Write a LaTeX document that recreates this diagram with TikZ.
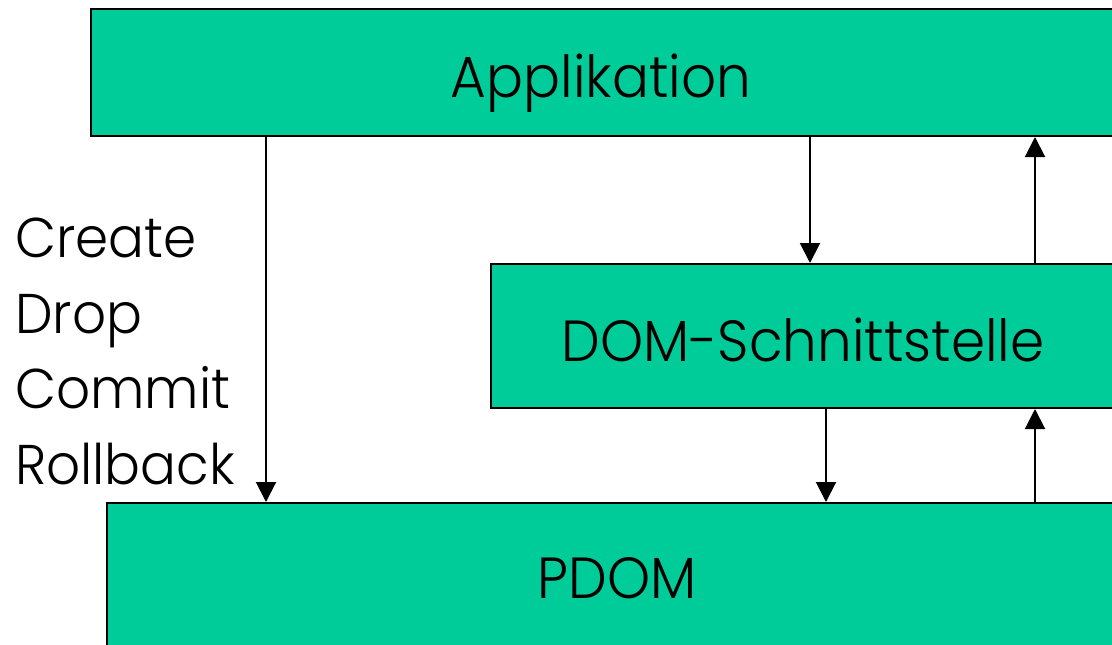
\documentclass[tikz,border=0pt]{standalone}
\usepackage{fontspec}
\setmainfont{Poppins}[UprightFont=* Light]
\usetikzlibrary{arrows.meta}
\definecolor{boxgreen}{RGB}{0,204,153}
\tikzset{
  layer/.style={draw=black, line width=2pt, fill=boxgreen, anchor=north west, inner sep=0pt},
  title/.style={font=\fontsize{58}{70}\selectfont, inner sep=0pt, anchor=base, xscale=0.945, transform shape},
  oplabel/.style={font=\fontsize{56}{70}\selectfont, inner sep=0pt, anchor=base west, xscale=0.95, transform shape},
  arr/.style={draw=black, line width=2pt, -{Triangle[width=20pt,length=20pt]}}
}
\begin{document}
\begin{tikzpicture}[x=1pt,y=-1pt]
  \clip (0,0) rectangle (1112,645);
  \fill[white] (0,0) rectangle (1112,645);

  % the three layers, running on past the right edge
  \node[layer, minimum width=1060pt, minimum height=127pt] (app) at (90,8) {};
  \node[layer, minimum width=660pt, minimum height=144pt] (dom) at (490,263) {};
  \node[layer, minimum width=1040pt, minimum height=180pt] (pdom) at (106,502) {};

  \node[title] (apptext) at (601,97) {Applikation};
  \node[title] (domtext) at (803,361) {DOM-Schnittstelle};
  \node[title] (pdomtext) at (617,598) {PDOM};

  % operations passed straight to the persistent layer
  \node[oplabel] (create) at (15,257) {Create};
  \node[oplabel] (drop) at (15,333) {Drop};
  \node[oplabel] (commit) at (15,408) {Commit};
  \node[oplabel] (rollback) at (15,484) {Rollback};

  % connectors between the layers
  \draw[arr] (app.south -| 266,0) -- (pdom.north -| 266,0);
  \draw[arr] (app.south -| 810,0) -- (dom.north -| 810,0);
  \draw[arr] (dom.north -| 1035,0) -- (app.south -| 1035,0);
  \draw[arr] (dom.south -| 826,0) -- (pdom.north -| 826,0);
  \draw[arr] (pdom.north -| 1035,0) -- (dom.south -| 1035,0);
\end{tikzpicture}
\end{document}
